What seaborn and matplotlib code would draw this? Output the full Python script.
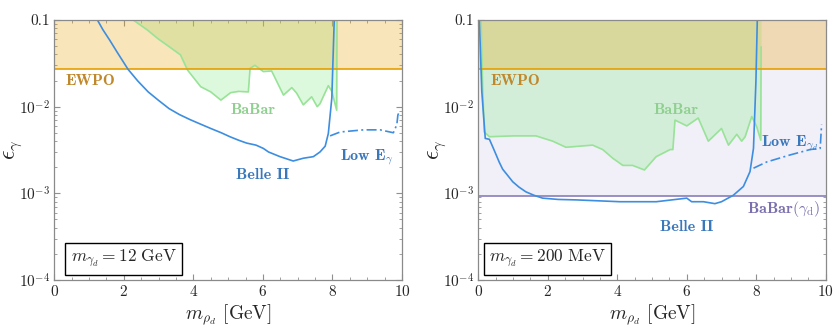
import numpy as np
import matplotlib
matplotlib.use("Agg")
import matplotlib.pyplot as plt
import seaborn as sns

# values
ewpo = 0.027
babar_gd = 9.2e-4

# left panel: m_gamma_d = 12 GeV
babar_m_12 = [2.27, 2.67, 3.0, 3.25, 3.63, 3.83, 4.21, 4.5, 4.79, 5.07, 5.3, 5.58, 5.63, 5.77,
              6.01, 6.25, 6.59, 6.83, 6.97, 7.16, 7.4, 7.56, 7.64, 7.88, 7.98, 8.12, 8.13]
babar_e_12 = [0.1, 0.077, 0.06, 0.051, 0.0395, 0.0265, 0.017, 0.0148, 0.0119, 0.0145, 0.015, 0.0148,
              0.0277, 0.030, 0.0254, 0.0258, 0.0136, 0.0166, 0.0143, 0.0105, 0.013, 0.010, 0.0108,
              0.0175, 0.015, 0.0091, 0.1]
belle_m_12 = [1.24, 1.4, 1.6, 1.8, 2.12, 2.4, 2.7, 3.0, 3.3, 3.6, 3.9, 4.2, 4.5, 4.8, 5.05, 5.3,
              5.53, 5.8, 6.01, 6.16, 6.49, 6.87, 7.16, 7.45, 7.64, 7.79, 7.88, 7.98, 8.05]
belle_e_12 = [0.1, 0.077, 0.058, 0.043, 0.027, 0.0198, 0.0148, 0.0118, 0.0095, 0.0081, 0.0071,
              0.0063, 0.0056, 0.0050, 0.0045, 0.0041, 0.0038, 0.0036, 0.0033, 0.0030, 0.00265,
              0.00236, 0.00254, 0.00265, 0.0030, 0.0035, 0.0049, 0.0125, 0.1]
lowe_m_12 = [7.93, 8.22, 8.89, 9.37, 9.75, 9.85, 9.88, 9.92]
lowe_e_12 = [0.0046, 0.0051, 0.0054, 0.0054, 0.0050, 0.0062, 0.0080, 0.0087]

# right panel: m_gamma_d = 200 MeV
babar_m_200 = [0.08, 0.12, 0.17, 0.32, 1.0, 1.66, 2.14, 2.52, 3.29, 3.58, 3.87, 4.16, 4.44, 4.78,
               5.12, 5.52, 5.6, 5.66, 6.0, 6.33, 6.62, 7.0, 7.2, 7.44, 7.58, 7.68, 7.87, 8.01,
               8.13, 8.14]
babar_e_200 = [0.1, 0.02, 0.0051, 0.0045, 0.0046, 0.0046, 0.0040, 0.0034, 0.0036, 0.0032, 0.00254,
               0.0021, 0.0021, 0.00186, 0.00265, 0.0032, 0.0032, 0.0070, 0.0060, 0.0074, 0.0040,
               0.0056, 0.0036, 0.0048, 0.0040, 0.0045, 0.0077, 0.0059, 0.0041, 0.049]
belle_m_200 = [0.03, 0.1, 0.2, 0.32, 0.42, 0.51, 0.60, 0.70, 0.85, 0.99, 1.17, 1.37, 1.6, 1.85,
               2.3, 2.81, 4.08, 5.12, 6.0, 6.14, 6.48, 6.81, 7.0, 7.34, 7.63, 7.82, 7.92, 7.99,
               8.03]
belle_e_200 = [0.1, 0.015, 0.0043, 0.0042, 0.0034, 0.0028, 0.0023, 0.0019, 0.0016, 0.00136,
               0.00118, 0.00104, 0.00095, 0.00088, 0.00085, 0.00084, 0.00080, 0.00080, 0.00088,
               0.00080, 0.00080, 0.00076, 0.00080, 0.00095, 0.0012, 0.00178, 0.0033, 0.0194, 0.1]
lowe_m_200 = [7.92, 8.3, 8.97, 9.55, 9.84, 9.88]
lowe_e_200 = [0.00195, 0.0023, 0.00277, 0.0032, 0.0033, 0.0062]

ytick_vals = [1e-4, 1e-3, 1e-2, 0.1]
ytick_labels = [r'$10^{-4}$', r'$10^{-3}$', r'$10^{-2}$', '0.1']

sns.set_style('ticks')
plt.rcParams['font.family'] = 'serif'
plt.rcParams['font.serif'] = ['cmr10', 'DejaVu Serif']
plt.rcParams['mathtext.fontset'] = 'cm'
plt.rcParams['axes.formatter.use_mathtext'] = True

c_orange = '#e69f00'
c_green = '#90ee90'
c_blue = '#3d8ee0'
c_purple = '#8a7dbb'

fig = plt.figure(figsize=(8.39, 3.36), dpi=100)
ax1 = fig.add_axes([0.0647, 0.1667, 0.4145, 0.7738])
ax2 = fig.add_axes([0.5701, 0.1667, 0.4141, 0.7738])


def frame(ax):
    ax.set_yscale('log')
    ax.set_xlim(0, 10)
    ax.set_ylim(1e-4, 0.1)
    ax.set_xticks([0, 2, 4, 6, 8, 10])
    ax.set_xticks(np.arange(0, 10.01, 0.5), minor=True)
    ax.set_yticks(ytick_vals, labels=ytick_labels)
    ax.tick_params(which='both', direction='in', top=True, right=True, color='#909090',
                   labelsize=11, pad=3)
    ax.tick_params(which='major', length=4.5, width=0.8)
    ax.tick_params(which='minor', length=2.2, width=0.6)
    for s in ax.spines.values():
        s.set_color('#8a8a8a')
        s.set_linewidth(0.9)
    ax.set_xlabel(r'$m_{\rho_d}$ [GeV]', fontsize=14, labelpad=2)
    ax.set_ylabel(r'$\epsilon_\gamma$', fontsize=17)
    ax.yaxis.set_label_coords(-0.088, 0.5)


def label(ax, x, y, s, color, size=11.5):
    ax.text(x, y, s, color=color, fontsize=size, family='cmb10', ha='center', va='center')


def massbox(ax, s):
    ax.text(0.199, 0.081, s, transform=ax.transAxes, fontsize=12.5, ha='center', va='center',
            bbox=dict(boxstyle='square,pad=0.3', fc='white', ec='black', lw=1.0))


# ---- left panel ----
ax = ax1
ax.fill_between(babar_m_12, babar_e_12, 0.1, color=c_green, alpha=0.3, lw=0)
ax.axhspan(ewpo, 0.1, color=c_orange, alpha=0.27, lw=0)
sns.lineplot(x=babar_m_12, y=babar_e_12, sort=False, estimator=None, color='#98e398', lw=1.2, ax=ax)
ax.axhline(ewpo, color=c_orange, lw=1.2)
sns.lineplot(x=belle_m_12, y=belle_e_12, sort=False, estimator=None, color=c_blue, lw=1.2, ax=ax)
ax.plot(lowe_m_12, lowe_e_12, color=c_blue, lw=1.2, ls=(0, (6, 2, 1.2, 2)))
frame(ax)
label(ax, 1.03, 0.0198, 'EWPO', '#c0882c')
label(ax, 5.72, 0.0091, 'BaBar', '#8fcf8f')
label(ax, 6.0, 0.00162, 'Belle II', '#3a78bc')
label(ax, 9.0, 0.00263, r'Low E$_{\gamma}$', '#3a78bc')
massbox(ax, r'$m_{\gamma_d} = 12\ \mathrm{GeV}$')

# ---- right panel ----
ax = ax2
ax.axhspan(babar_gd, 0.1, color='#f1eff8', lw=0)
ax.fill_between(babar_m_200, babar_e_200, 0.1, color=c_green, alpha=0.3, lw=0)
ax.axhspan(ewpo, 0.1, color=c_orange, alpha=0.27, lw=0)
ax.axhline(babar_gd, color=c_purple, lw=1.2)
sns.lineplot(x=babar_m_200, y=babar_e_200, sort=False, estimator=None, color='#98e398', lw=1.2, ax=ax)
ax.axhline(ewpo, color=c_orange, lw=1.2)
sns.lineplot(x=belle_m_200, y=belle_e_200, sort=False, estimator=None, color=c_blue, lw=1.2, ax=ax)
ax.plot(lowe_m_200, lowe_e_200, color=c_blue, lw=1.2, ls=(0, (6, 2, 1.2, 2)))
frame(ax)
label(ax, 1.06, 0.0198, 'EWPO', '#c0882c')
label(ax, 5.69, 0.0091, 'BaBar', '#8fcf8f')
label(ax, 8.97, 0.0038, r'Low E$_{\gamma_d}$', '#3a78bc')
label(ax, 8.79, 0.00066, r'BaBar$(\gamma_\mathrm{d})$', '#7b6fae')
label(ax, 6.0, 0.00041, 'Belle II', '#3a78bc')
massbox(ax, r'$m_{\gamma_d} = 200\ \mathrm{MeV}$')

fig.savefig('out.png', dpi=100)
